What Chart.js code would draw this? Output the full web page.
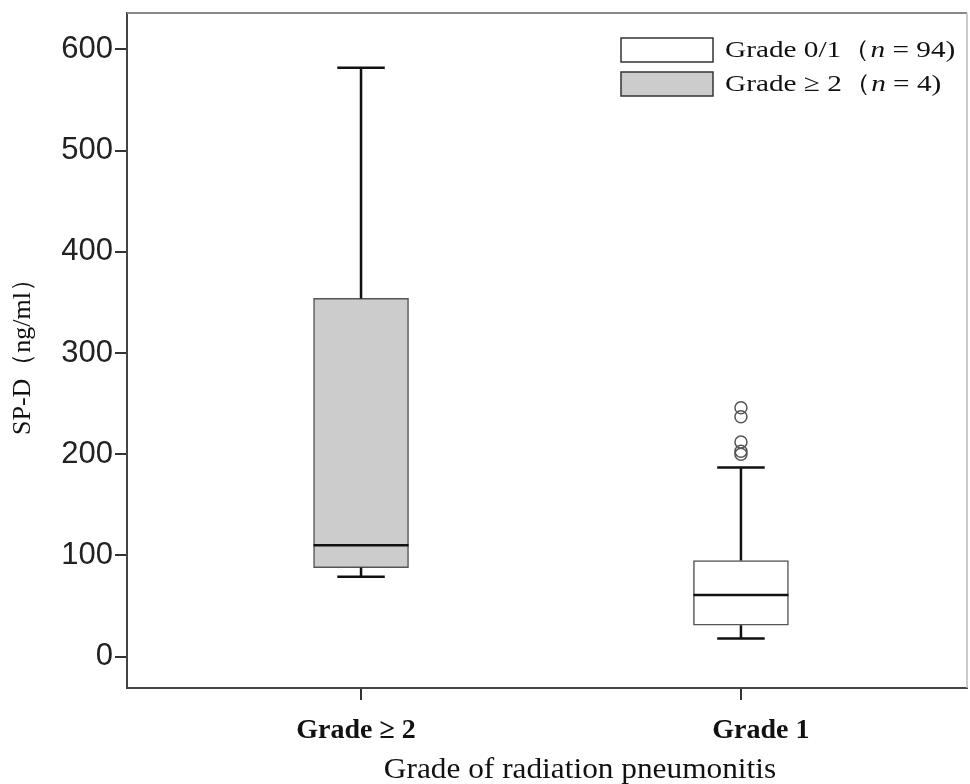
<!DOCTYPE html>
<html>
<head>
<meta charset="utf-8">
<script src="https://cdn.jsdelivr.net/npm/chart.js@4/dist/chart.umd.min.js"></script>
<style>
  html, body { margin: 0; padding: 0; background: #fff; }
  #wrap { width: 970px; height: 784px; }
</style>
</head>
<body>
<div id="wrap"><canvas id="box"></canvas></div>
<script>
// box plot summary per group
const categories = ["Grade \u2265 2", "Grade 1"];
const catPos = [1, 2];
const lowerWhisker = [79, 18];
const q1 = [88, 31];
const median = [110, 61];
const q3 = [354, 95];
const upperWhisker = [582, 187];
const outliers = [[], [246, 237, 212, 203, 200]];
const yTicks = [0, 100, 200, 300, 400, 500, 600];
const legendLabels = ["Grade 0/1\uff08n = 94)", "Grade \u2265 2\uff08n = 4)"];
const xTitle = "Grade of radiation pneumonitis";

const boxFill = ["#cccccc", "#ffffff"];
const legendFill = ["#ffffff", "#cccccc"];
const BOX_W = 95;
const labelShift = [-5, 20]; // the category labels sit a little off their ticks

const serif = "'Liberation Serif', 'Times New Roman', serif";
const sans = "'Liberation Sans', Arial, sans-serif";

const boxParts = {
  id: "boxParts",
  afterDatasetsDraw(chart) {
    const { ctx, scales: { x, y }, chartArea } = chart;
    ctx.save();
    // top & right frame
    ctx.strokeStyle = "#888";
    ctx.lineWidth = 2;
    ctx.beginPath();
    ctx.moveTo(chartArea.left, chartArea.top);
    ctx.lineTo(chartArea.right, chartArea.top);
    ctx.stroke();
    ctx.strokeStyle = "#bbb";
    ctx.lineWidth = 1.5;
    ctx.beginPath();
    ctx.moveTo(chartArea.right, chartArea.top);
    ctx.lineTo(chartArea.right, chartArea.bottom);
    ctx.stroke();

    ctx.strokeStyle = "#111";
    ctx.lineWidth = 2.5;
    catPos.forEach((p, i) => {
      const cx = x.getPixelForValue(p);
      const half = BOX_W / 2;
      const cap = BOX_W / 4;
      ctx.beginPath();
      // upper whisker
      ctx.moveTo(cx, y.getPixelForValue(q3[i]));
      ctx.lineTo(cx, y.getPixelForValue(upperWhisker[i]));
      ctx.moveTo(cx - cap, y.getPixelForValue(upperWhisker[i]));
      ctx.lineTo(cx + cap, y.getPixelForValue(upperWhisker[i]));
      // lower whisker
      ctx.moveTo(cx, y.getPixelForValue(q1[i]));
      ctx.lineTo(cx, y.getPixelForValue(lowerWhisker[i]));
      ctx.moveTo(cx - cap, y.getPixelForValue(lowerWhisker[i]));
      ctx.lineTo(cx + cap, y.getPixelForValue(lowerWhisker[i]));
      // median
      ctx.moveTo(cx - half, y.getPixelForValue(median[i]));
      ctx.lineTo(cx + half, y.getPixelForValue(median[i]));
      ctx.stroke();
    });

    // category labels and axis title
    ctx.fillStyle = "#111";
    ctx.textAlign = "center";
    ctx.textBaseline = "middle";
    ctx.font = "bold 28px " + serif;
    catPos.forEach((p, i) => {
      ctx.fillText(categories[i], x.getPixelForValue(p) + labelShift[i], chartArea.bottom + 43);
    });
    ctx.save();
    ctx.translate(580, chartArea.bottom + 82);
    ctx.scale(1.08, 1);
    ctx.font = "29px " + serif;
    ctx.fillText(xTitle, 0, 0);
    ctx.restore();

    // legend (text a bit wide, like the original typeface)
    const lx = 621, ly = [38, 72], sw = 92, sh = 24, stretch = 1.22;
    legendLabels.forEach((lab, i) => {
      ctx.fillStyle = legendFill[i];
      ctx.fillRect(lx, ly[i], sw, sh);
      ctx.strokeStyle = "#333";
      ctx.lineWidth = 1.5;
      ctx.strokeRect(lx, ly[i], sw, sh);
      const k = lab.indexOf("\uff08n");
      const parts = [
        [lab.slice(0, k + 1), "normal"],
        ["n", "italic"],
        [lab.slice(k + 2), "normal"]
      ];
      ctx.save();
      ctx.translate(lx + sw + 12, ly[i] + sh / 2 + 1);
      ctx.scale(stretch, 1);
      let tx = 0;
      ctx.fillStyle = "#111";
      ctx.textBaseline = "middle";
      ctx.textAlign = "left";
      parts.forEach(([t, st]) => {
        ctx.font = st + " 24px " + serif;
        ctx.fillText(t, tx, 0);
        tx += ctx.measureText(t).width;
      });
      ctx.restore();
    });
    ctx.restore();
  }
};

const outlierPts = [];
outliers.forEach((arr, i) => arr.forEach(v => outlierPts.push({ x: catPos[i], y: v })));

new Chart(document.getElementById("box"), {
  type: "bar",
  data: {
    datasets: [
      {
        type: "bar",
        data: catPos.map((p, i) => ({ x: p, y: [q1[i], q3[i]] })),
        backgroundColor: boxFill,
        borderColor: "#555",
        borderWidth: 1.5,
        borderSkipped: false,
        barThickness: BOX_W
      },
      {
        type: "scatter",
        data: outlierPts,
        pointStyle: "circle",
        radius: 6,
        backgroundColor: "rgba(0,0,0,0)",
        borderColor: "#555",
        borderWidth: 1.5
      }
    ]
  },
  options: {
    responsive: true,
    maintainAspectRatio: false,
    animation: false,
    layout: { autoPadding: false, padding: { top: 13, right: 3, left: 0, bottom: 0 } },
    plugins: { legend: { display: false }, tooltip: { enabled: false } },
    scales: {
      x: {
        type: "linear",
        offset: false,
        min: 0.384,
        max: 2.595,
        afterBuildTicks: s => { s.ticks = catPos.map(v => ({ value: v })); },
        afterFit: s => { s.height = 96; s.paddingLeft = 0; s.paddingRight = 0; },
        grid: { offset: false, drawOnChartArea: false, tickLength: 12, color: "#333", lineWidth: 2 },
        border: { color: "#444", width: 2 },
        ticks: { display: false }
      },
      y: {
        min: -31,
        max: 636,
        afterBuildTicks: s => { s.ticks = yTicks.map(v => ({ value: v })); },
        afterFit: s => { s.width = 127; s.paddingTop = 0; s.paddingBottom = 0; },
        grid: { drawOnChartArea: false, tickLength: 12, color: "#333", lineWidth: 2 },
        border: { color: "#444", width: 2 },
        ticks: {
          padding: 2,
          color: "#222",
          font: { family: sans, size: 31 }
        },
        title: {
          display: true,
          text: "SP-D\uff08ng/ml\uff09",
          color: "#111",
          font: { family: serif, size: 26 },
          padding: { top: 8, bottom: 0 }
        }
      }
    }
  },
  plugins: [boxParts]
});
</script>
</body>
</html>
